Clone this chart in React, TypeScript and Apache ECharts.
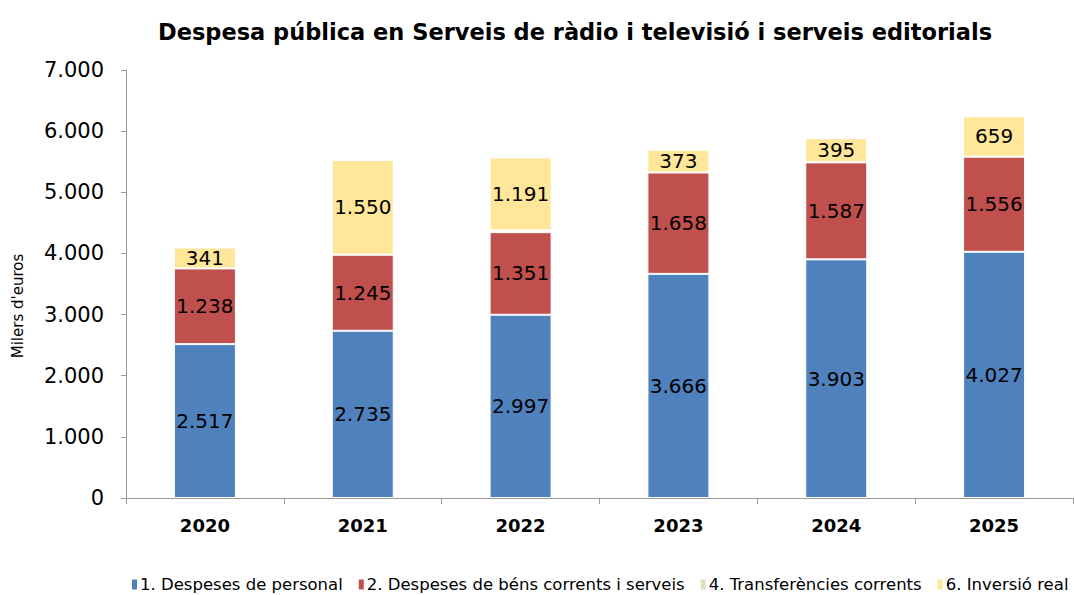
import React, { useEffect, useRef } from "react";
import * as echarts from "echarts";

const years = ["2020", "2021", "2022", "2023", "2024", "2025"];
const personal = [2517, 2735, 2997, 3666, 3903, 4027];
const bens = [1238, 1245, 1351, 1658, 1587, 1556];
const transferencies = [0, 0, 30, 0, 0, 0];
const inversio = [341, 1550, 1191, 373, 395, 659];
const yTicks = [0, 1000, 2000, 3000, 4000, 5000, 6000, 7000];

const fmt = (v: number) => {
  const s = Math.round(v).toString();
  return s.replace(/\B(?=(\d{3})+(?!\d))/g, ".");
};

const FONT = "DejaVu Sans, Arial, sans-serif";

export default function App() {
  const ref = useRef<HTMLDivElement>(null);
  useEffect(() => {
    if (!ref.current) return;
    const chart = echarts.init(ref.current, null, { renderer: "svg" });
    const label = {
      show: true,
      position: "inside",
      color: "#000",
      fontSize: 20,
      fontFamily: FONT,
      formatter: (p: any) => (p.value > 100 ? fmt(p.value) : ""),
    };
    const mk = (name: string, data: number[], color: string, showLabel: boolean) => ({
      name,
      type: "bar",
      stack: "total",
      data,
      barWidth: 62,
      itemStyle: { color, borderColor: "#fff", borderWidth: 1 },
      label: showLabel ? label : { show: false },
    });
    chart.setOption({
      animation: false,
      backgroundColor: "#fff",
      title: {
        text: "Despesa pública en Serveis de ràdio i televisió i serveis editorials",
        left: 570,
        textAlign: "center",
        top: 15,
        textStyle: { fontFamily: FONT, fontWeight: "bold", fontSize: 22.5, color: "#000" },
      },
      legend: {
        top: 571,
        left: 127,
        itemWidth: 5,
        itemHeight: 10,
        itemGap: 16,
        icon: "rect",
        itemStyle: { borderWidth: 0 },
        textStyle: { fontFamily: FONT, fontSize: 16.5, color: "#000", padding: [0, 0, 0, -2] },
        data: [
          "1. Despeses de personal",
          "2. Despeses de béns corrents i serveis",
          "4. Transferències corrents",
          "6. Inversió real",
        ],
      },
      graphic: [
        {
          type: "text",
          x: 18,
          y: 306,
          rotation: Math.PI / 2,
          style: {
            text: "Milers d'euros",
            fontFamily: FONT,
            fontSize: 15,
            fill: "#000",
            align: "center",
            verticalAlign: "middle",
          },
        },
      ],
      grid: { left: 126, right: 1, top: 70, bottom: 97, containLabel: false },
      xAxis: {
        type: "category",
        data: years,
        axisLine: { lineStyle: { color: "#999" } },
        axisTick: { show: true, length: 6, lineStyle: { color: "#999" } },
        axisLabel: { fontFamily: FONT, fontWeight: "bold", fontSize: 18, color: "#000", margin: 18 },
      },
      yAxis: {
        type: "value",
        min: yTicks[0],
        max: yTicks[yTicks.length - 1],
        interval: 1000,
        axisLine: { show: true, lineStyle: { color: "#999" } },
        axisTick: { show: true, length: 5, lineStyle: { color: "#999" } },
        splitLine: { show: false },
        axisLabel: {
          fontFamily: FONT,
          fontSize: 21,
          color: "#000",
          margin: 22,
          formatter: (v: number) => fmt(v),
        },
      },
      series: [
        mk("1. Despeses de personal", personal, "#4F81BD", true),
        mk("2. Despeses de béns corrents i serveis", bens, "#C0504D", true),
        mk("4. Transferències corrents", transferencies, "#D7E4BD", false),
        mk("6. Inversió real", inversio, "#FFE699", true),
      ],
    });
    return () => chart.dispose();
  }, []);
  return (
    <div
      ref={ref}
      style={{ position: "absolute", left: 0, top: 0, width: 1074, height: 595 }}
    />
  );
}
